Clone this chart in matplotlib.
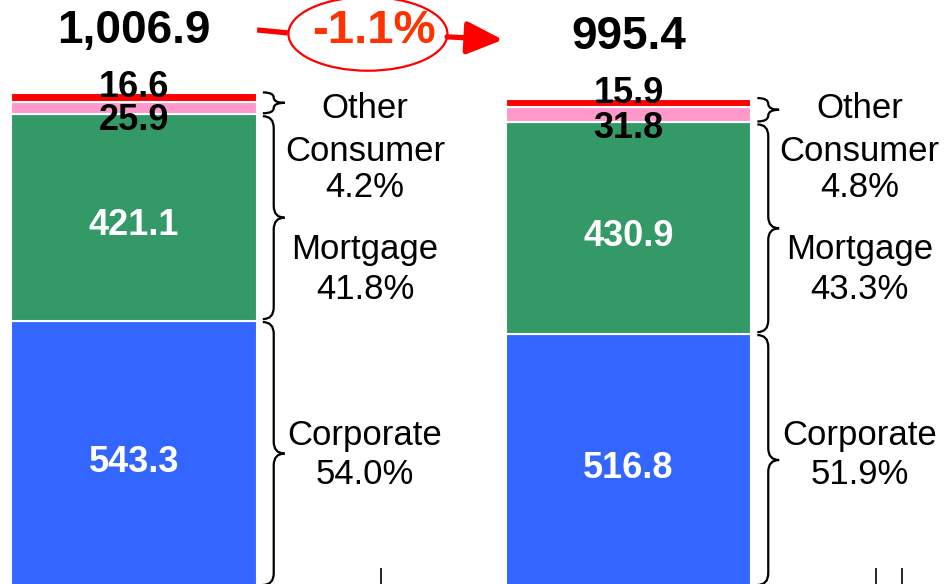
import numpy as np
import matplotlib
matplotlib.use("Agg")
import matplotlib.pyplot as plt
from matplotlib.path import Path
from matplotlib.patches import PathPatch, Ellipse

plt.rcParams['font.family'] = ['Liberation Sans', 'DejaVu Sans']

# data
periods = [0, 1]
corporate = [543.3, 516.8]
mortgage = [421.1, 430.9]
consumer = [25.9, 31.8]
other = [16.6, 15.9]
totals = [1006.9, 995.4]
change_label = '-1.1%'
pct_other_consumer = ['4.2%', '4.8%']
pct_mortgage = ['41.8%', '43.3%']
pct_corporate = ['54.0%', '51.9%']

colors = {'corporate': '#3366FF', 'mortgage': '#339966',
          'consumer': '#FF99CC', 'other': '#FF0000'}


def brace(ax, x0, ya, yb, w, r):
    """Curly brace pointing right, from ya to yb in data coords."""
    r = min(r, (yb - ya) / 4.0)
    ym = (ya + yb) / 2.0
    xm = x0 + w / 2.0
    verts = [(x0, yb), (xm, yb), (xm, yb - r),
             (xm, ym + r),
             (xm, ym), (x0 + w, ym),
             (xm, ym), (xm, ym - r),
             (xm, ya + r),
             (xm, ya), (x0, ya)]
    codes = [Path.MOVETO, Path.CURVE3, Path.CURVE3,
             Path.LINETO,
             Path.CURVE3, Path.CURVE3,
             Path.CURVE3, Path.CURVE3,
             Path.LINETO,
             Path.CURVE3, Path.CURVE3]
    ax.add_patch(PathPatch(Path(verts, codes), fill=False, ec='black',
                           lw=1.6, clip_on=False))


fig = plt.figure(figsize=(9.49, 5.84), dpi=100)
ax = fig.add_axes([0, 0, 1, 1])
ax.set_xlim(-0.271, 1.648)
ax.set_ylim(8, 1197)
ax.axis('off')

width = 0.497
c = np.array(corporate)
m = np.array(mortgage)
cs = np.array(consumer)
o = np.array(other)
kw = dict(width=width, edgecolor='white', linewidth=1.5)
ax.bar(periods, c, color=colors['corporate'], **kw)
ax.bar(periods, m, bottom=c, color=colors['mortgage'], **kw)
ax.bar(periods, cs, bottom=c + m, color=colors['consumer'], **kw)
ax.bar(periods, o, bottom=c + m + cs, color=colors['other'], **kw)

for i in periods:
    # values inside bars
    ax.text(i, c[i] / 2 - 16, f'{c[i]:.1f}', color='white', fontsize=26,
            fontweight='bold', ha='center', va='center')
    ax.text(i, c[i] + m[i] / 2 - 16, f'{m[i]:.1f}', color='white', fontsize=26,
            fontweight='bold', ha='center', va='center')
    ax.text(i, c[i] + m[i] - 12, f'{cs[i]:.1f}', color='black', fontsize=26,
            fontweight='bold', ha='center', va='center')
    ax.text(i, totals[i] + 12, f'{o[i]:.1f}', color='black', fontsize=26,
            fontweight='bold', ha='center', va='center')
    ax.text(i, totals[i] + 126, f'{totals[i]:,.1f}', color='black', fontsize=33,
            fontweight='bold', ha='center', va='center')

    # braces
    bx = i + width / 2 + 0.012
    brace(ax, bx, 6, c[i] - 2, 0.044, 24)
    brace(ax, bx, c[i] + 4, c[i] + m[i] - 4, 0.044, 24)
    brace(ax, bx, c[i] + m[i] + 2, totals[i] + 2, 0.044, 24)

    # segment names
    lx = i + 0.467
    ax.text(lx, 976, 'Other', fontsize=25, ha='center', va='center')
    ax.text(lx, 852, f'Consumer\n{pct_other_consumer[i]}', fontsize=25,
            ha='center', va='center', linespacing=1.12)
    ax.text(lx, 648, f'Mortgage\n{pct_mortgage[i]}', fontsize=25,
            ha='center', va='center', linespacing=1.25)
    ax.text(lx, 270, f'Corporate\n{pct_corporate[i]}', fontsize=25,
            ha='center', va='center', linespacing=1.22)

# small tick marks at the bottom
ax.vlines([0.5, 1.5, 1.553], 0, 41, color='black', lw=1.2)

# change annotation
ax.plot([0.249, 0.311], [1136, 1130], color='#FF0000', lw=3.8,
        solid_capstyle='butt')
ax.annotate('', xy=(0.746, 1116), xytext=(0.633, 1122),
            arrowprops=dict(arrowstyle='-|>,head_length=22,head_width=10',
                            mutation_scale=1, color='#FF0000', lw=3.8,
                            shrinkA=0, shrinkB=0))
ax.add_patch(Ellipse((0.473, 1128), 0.3215, 150, fill=False, ec='#FF0000',
                     lw=1.6, clip_on=False))
ax.text(0.485, 1133, change_label, color='#FF3300', fontsize=34,
        fontweight='bold', ha='center', va='center')

fig.savefig('out.png', dpi=100)
